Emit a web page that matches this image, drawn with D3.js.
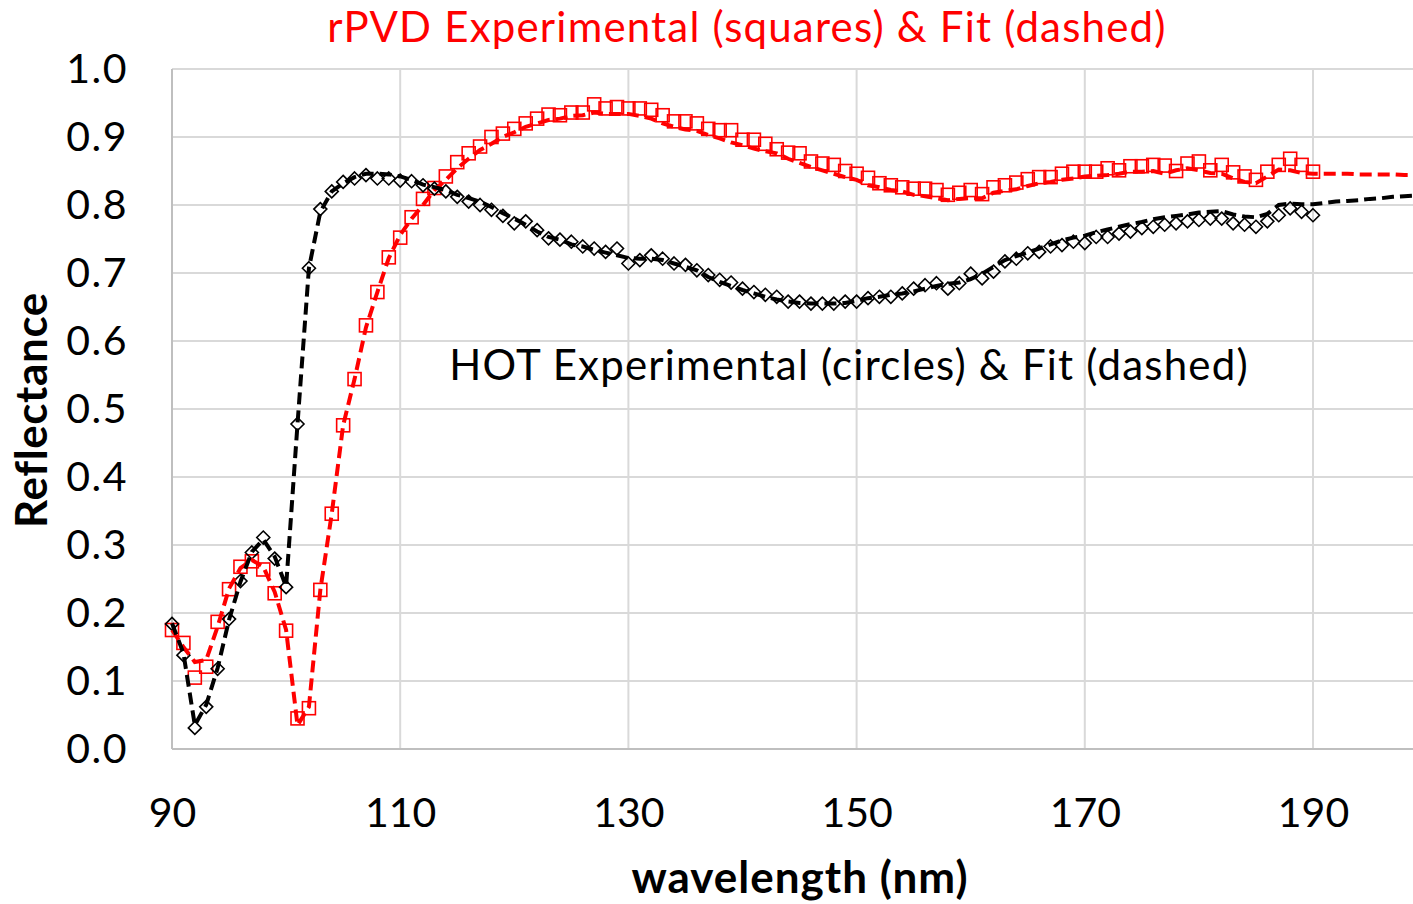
<!DOCTYPE html>
<html>
<head>
<meta charset="utf-8">
<script src="https://cdn.jsdelivr.net/npm/d3@7"></script>
<style>
  html, body { margin: 0; padding: 0; background: #fff; }
  svg { display: block; }
  text { font-family: Lato, "Open Sans", sans-serif; }
</style>
</head>
<body>
<svg id="chart" width="1413" height="904"></svg>
<script>
// Wavelengths (nm) of the measured points and of the fitted curves
const wlExp = d3.range(90, 191);
const wlFit = d3.range(90, 201);

// HOT sample: measured reflectance (diamonds)
const hotExp = [
  0.184, 0.138, 0.031, 0.062, 0.118, 0.191, 0.247, 0.289, 0.311, 0.280,
  0.238, 0.478, 0.707, 0.794, 0.820, 0.834, 0.839, 0.844, 0.839, 0.839,
  0.836, 0.835, 0.829, 0.824, 0.820, 0.812, 0.805, 0.800, 0.793, 0.784,
  0.773, 0.776, 0.763, 0.751, 0.749, 0.746, 0.739, 0.736, 0.731, 0.736,
  0.714, 0.719, 0.726, 0.721, 0.714, 0.712, 0.704, 0.697, 0.690, 0.686,
  0.677, 0.672, 0.668, 0.665, 0.658, 0.658, 0.655, 0.655, 0.655, 0.658,
  0.658, 0.663, 0.665, 0.665, 0.670, 0.677, 0.682, 0.685, 0.677, 0.685,
  0.699, 0.692, 0.702, 0.717, 0.721, 0.729, 0.731, 0.739, 0.741, 0.746,
  0.744, 0.753, 0.753, 0.758, 0.761, 0.766, 0.768, 0.771, 0.773, 0.776,
  0.778, 0.780, 0.780, 0.773, 0.771, 0.768, 0.776, 0.785, 0.795, 0.790,
  0.785
];

// HOT sample: model fit (black dashed)
const hotFit = [
  0.185, 0.141, 0.035, 0.065, 0.119, 0.190, 0.246, 0.290, 0.308, 0.283,
  0.239, 0.478, 0.707, 0.790, 0.820, 0.832, 0.841, 0.846, 0.846, 0.845,
  0.842, 0.837, 0.830, 0.826, 0.822, 0.815, 0.810, 0.805, 0.797, 0.788,
  0.780, 0.771, 0.761, 0.753, 0.749, 0.742, 0.739, 0.734, 0.730, 0.726,
  0.722, 0.721, 0.721, 0.719, 0.714, 0.709, 0.704, 0.694, 0.687, 0.681,
  0.675, 0.670, 0.665, 0.661, 0.658, 0.656, 0.655, 0.655, 0.655, 0.656,
  0.659, 0.663, 0.665, 0.668, 0.670, 0.673, 0.677, 0.681, 0.684, 0.686,
  0.691, 0.699, 0.709, 0.719, 0.725, 0.730, 0.736, 0.742, 0.748, 0.752,
  0.755, 0.760, 0.764, 0.768, 0.772, 0.775, 0.779, 0.782, 0.784, 0.786,
  0.789, 0.790, 0.791, 0.786, 0.783, 0.782, 0.787, 0.800, 0.802, 0.801,
  0.801, 0.803, 0.805, 0.806, 0.807, 0.809, 0.810, 0.812, 0.813, 0.814,
  0.815
];

// rPVD sample: measured reflectance (squares)
const rpvdExp = [
  0.175, 0.156, 0.105, 0.121, 0.187, 0.235, 0.268, 0.276, 0.264, 0.229,
  0.174, 0.045, 0.060, 0.234, 0.346, 0.476, 0.544, 0.623, 0.672, 0.723,
  0.752, 0.782, 0.809, 0.825, 0.842, 0.863, 0.876, 0.886, 0.900, 0.905,
  0.912, 0.920, 0.927, 0.933, 0.932, 0.936, 0.936, 0.948, 0.942, 0.944,
  0.942, 0.942, 0.940, 0.932, 0.923, 0.923, 0.920, 0.912, 0.910, 0.910,
  0.896, 0.896, 0.890, 0.882, 0.877, 0.876, 0.864, 0.861, 0.859, 0.850,
  0.846, 0.840, 0.832, 0.829, 0.826, 0.824, 0.824, 0.822, 0.815, 0.818,
  0.822, 0.816, 0.826, 0.829, 0.833, 0.838, 0.841, 0.841, 0.846, 0.849,
  0.849, 0.849, 0.854, 0.851, 0.857, 0.857, 0.859, 0.858, 0.850, 0.861,
  0.864, 0.851, 0.859, 0.848, 0.842, 0.837, 0.849, 0.859, 0.868, 0.859,
  0.849
];

// rPVD sample: model fit (red dashed)
const rpvdFit = [
  0.175, 0.150, 0.128, 0.131, 0.180, 0.236, 0.266, 0.278, 0.268, 0.231,
  0.175, 0.035, 0.062, 0.234, 0.346, 0.476, 0.544, 0.620, 0.672, 0.722,
  0.756, 0.780, 0.800, 0.822, 0.837, 0.854, 0.868, 0.881, 0.890, 0.900,
  0.907, 0.915, 0.920, 0.925, 0.927, 0.931, 0.932, 0.936, 0.934, 0.934,
  0.934, 0.931, 0.927, 0.920, 0.915, 0.911, 0.909, 0.903, 0.898, 0.892,
  0.888, 0.883, 0.879, 0.876, 0.868, 0.862, 0.856, 0.851, 0.846, 0.841,
  0.837, 0.829, 0.826, 0.822, 0.820, 0.815, 0.813, 0.810, 0.807, 0.809,
  0.810, 0.810, 0.818, 0.821, 0.823, 0.828, 0.832, 0.834, 0.837, 0.839,
  0.842, 0.843, 0.844, 0.846, 0.849, 0.849, 0.850, 0.846, 0.851, 0.854,
  0.851, 0.847, 0.846, 0.839, 0.834, 0.832, 0.842, 0.852, 0.851, 0.847,
  0.846, 0.846, 0.846, 0.846, 0.845, 0.845, 0.845, 0.845, 0.844, 0.844,
  0.844
];

// Axis extent and ticks; the axis runs to 210 nm, labels shown up to 190
const xMax = 210;
const xTicks = [90, 110, 130, 150, 170, 190];
const yTicks = d3.range(0, 11).map(i => i / 10);

const titleText = "rPVD Experimental (squares) & Fit (dashed)";
const hotText = "HOT Experimental (circles) & Fit (dashed)";
const xLabel = "wavelength (nm)";
const yLabel = "Reflectance";

const svg = d3.select("#chart");
const plot = { left: 172, top: 69, bottom: 749 };

const x = d3.scaleLinear().domain([90, xMax]).range([plot.left, plot.left + (xMax - 90) * 11.41]);
const y = d3.scaleLinear().domain([0, 1]).range([plot.bottom, plot.top]);

const gridColor = "#d9d9d9";

// Horizontal gridlines
svg.append("g")
  .selectAll("line")
  .data(yTicks.filter(v => v > 0))
  .join("line")
  .attr("x1", plot.left).attr("x2", x(xMax))
  .attr("y1", d => y(d)).attr("y2", d => y(d))
  .attr("stroke", gridColor).attr("stroke-width", 2);

// Vertical gridlines
svg.append("g")
  .selectAll("line")
  .data(xTicks.filter(v => v > 90).concat([xMax]))
  .join("line")
  .attr("x1", d => x(d)).attr("x2", d => x(d))
  .attr("y1", plot.top).attr("y2", plot.bottom)
  .attr("stroke", gridColor).attr("stroke-width", 2);

// Axis lines
svg.append("line")
  .attr("x1", plot.left).attr("x2", plot.left)
  .attr("y1", plot.top).attr("y2", plot.bottom)
  .attr("stroke", "#bfbfbf").attr("stroke-width", 2);
svg.append("line")
  .attr("x1", plot.left).attr("x2", x(xMax))
  .attr("y1", plot.bottom).attr("y2", plot.bottom)
  .attr("stroke", "#bfbfbf").attr("stroke-width", 2);

// Tick labels
const yAxis = d3.axisLeft(y).tickValues(yTicks).tickFormat(d3.format(".1f")).tickSize(0).tickPadding(44);
const gy = svg.append("g").attr("transform", `translate(${plot.left},0)`).call(yAxis);
gy.select(".domain").remove();
gy.selectAll("text").attr("font-size", 41).attr("fill", "#000")
  .attr("letter-spacing", 1.5)
  .attr("font-family", "Lato, sans-serif");

const xAxis = d3.axisBottom(x).tickValues(xTicks).tickFormat(d3.format("d")).tickSize(0).tickPadding(49);
const gx = svg.append("g").attr("transform", `translate(0,${plot.bottom})`).call(xAxis);
gx.select(".domain").remove();
gx.selectAll("text").attr("font-size", 41).attr("fill", "#000")
  .attr("font-family", "Lato, sans-serif");

// Series
const hotPts = wlExp.map((w, i) => [w, hotExp[i]]);
const rpvdPts = wlExp.map((w, i) => [w, rpvdExp[i]]);
const hotFitPts = wlFit.map((w, i) => [w, hotFit[i]]);
const rpvdFitPts = wlFit.map((w, i) => [w, rpvdFit[i]]);

const line = d3.line().x(d => x(d[0])).y(d => y(d[1]));

const sq = 13;
svg.append("g")
  .selectAll("rect")
  .data(rpvdPts)
  .join("rect")
  .attr("x", d => x(d[0]) - sq / 2)
  .attr("y", d => y(d[1]) - sq / 2)
  .attr("width", sq).attr("height", sq)
  .attr("fill", "none").attr("stroke", "#ff0000").attr("stroke-width", 1.6);

const dm = 6.5;
svg.append("g")
  .selectAll("path")
  .data(hotPts)
  .join("path")
  .attr("d", d => {
    const cx = x(d[0]), cy = y(d[1]);
    return `M${cx},${cy - dm}L${cx + dm},${cy}L${cx},${cy + dm}L${cx - dm},${cy}Z`;
  })
  .attr("fill", "none").attr("stroke", "#000").attr("stroke-width", 1.6);

svg.append("path")
  .datum(rpvdFitPts)
  .attr("d", line)
  .attr("fill", "none").attr("stroke", "#ff0000")
  .attr("stroke-width", 4).attr("stroke-dasharray", "12,6");

svg.append("path")
  .datum(hotFitPts)
  .attr("d", line)
  .attr("fill", "none").attr("stroke", "#000")
  .attr("stroke-width", 4).attr("stroke-dasharray", "12,6");

// Titles and annotations
svg.append("text")
  .attr("x", 747).attr("y", 42)
  .attr("text-anchor", "middle")
  .attr("font-size", 42).attr("letter-spacing", 1.2).attr("fill", "#ff0000")
  .text(titleText);

svg.append("text")
  .attr("x", 849).attr("y", 380)
  .attr("text-anchor", "middle")
  .attr("font-size", 42).attr("letter-spacing", 1.2).attr("fill", "#000")
  .text(hotText);

svg.append("text")
  .attr("x", 800).attr("y", 893)
  .attr("text-anchor", "middle")
  .attr("font-size", 44).attr("letter-spacing", 1).attr("font-weight", "bold").attr("fill", "#000")
  .text(xLabel);

svg.append("text")
  .attr("transform", "translate(47,410) rotate(-90)")
  .attr("text-anchor", "middle")
  .attr("font-size", 44).attr("letter-spacing", 0.6).attr("font-weight", "bold").attr("fill", "#000")
  .text(yLabel);
</script>
</body>
</html>
